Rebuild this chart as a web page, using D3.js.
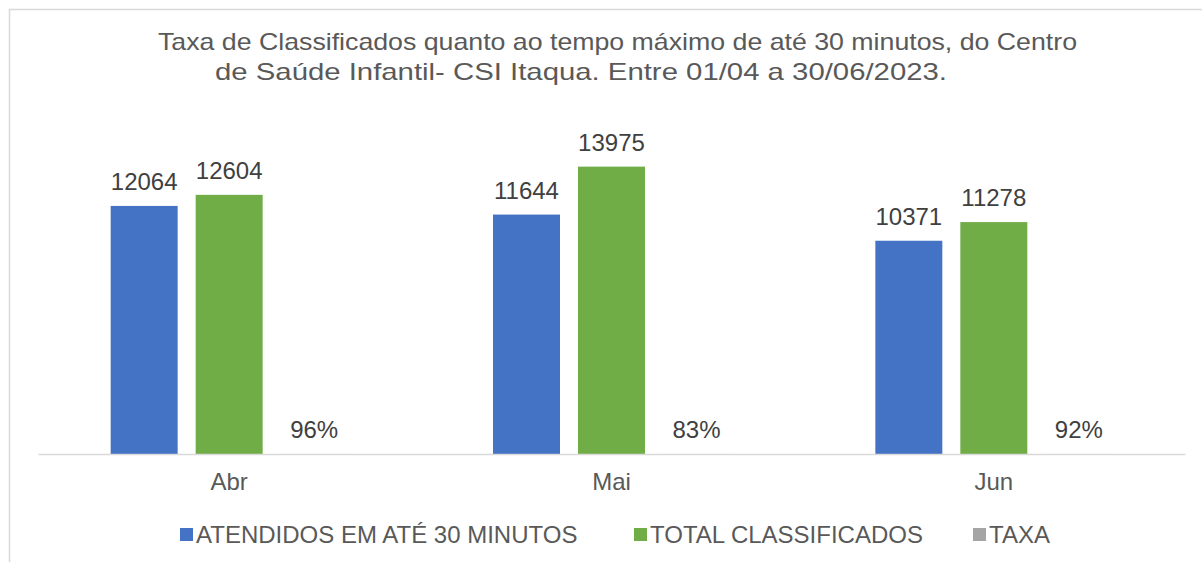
<!DOCTYPE html>
<html>
<head>
<meta charset="utf-8">
<script src="https://cdn.jsdelivr.net/npm/d3@7"></script>
<style>
  body { margin: 0; background: #fff; }
  svg { display: block; font-family: "Liberation Sans", Arial, sans-serif; }
</style>
</head>
<body>
<div id="chart"></div>
<script>
const months = ["Abr", "Mai", "Jun"];
const atendidos = [12064, 11644, 10371];
const totalClassificados = [12604, 13975, 11278];
const taxa = [0.96, 0.83, 0.92];
const seriesNames = ["ATENDIDOS EM ATÉ 30 MINUTOS", "TOTAL CLASSIFICADOS", "TAXA"];
const colors = ["#4472c4", "#70ad47", "#a5a5a5"];

const width = 1202;
const height = 562;
const plot = { left: 38, right: 1185, top: 125, bottom: 454 };

const svg = d3.select("#chart").append("svg")
  .attr("width", width)
  .attr("height", height);

// chart border
svg.append("rect")
  .attr("x", 9.5).attr("y", 9.5)
  .attr("width", 1210).attr("height", 600)
  .attr("fill", "none")
  .attr("stroke", "#d9d9d9")
  .attr("stroke-width", 1.5);

// title (two lines, stretched like the original)
const title = svg.append("text")
  .attr("fill", "#595959")
  .attr("font-size", 24);
title.append("tspan").attr("x", 158).attr("y", 50)
  .attr("textLength", 919).attr("lengthAdjust", "spacingAndGlyphs")
  .text("Taxa de Classificados quanto ao tempo máximo de até 30 minutos, do Centro");
title.append("tspan").attr("x", 215).attr("y", 80)
  .attr("textLength", 732).attr("lengthAdjust", "spacingAndGlyphs")
  .text("de Saúde Infantil- CSI Itaqua. Entre 01/04 a 30/06/2023.");

const x0 = d3.scaleBand().domain(months).range([plot.left, plot.right]);
const x1 = d3.scaleBand().domain([0, 1, 2]).range([0, x0.bandwidth()])
  .paddingInner(0.212).paddingOuter(0.855);
const y = d3.scaleLinear().domain([0, 16000]).range([plot.bottom, plot.top]);

const rows = months.map((m, i) => ({
  month: m,
  values: [
    { s: 0, v: atendidos[i], label: String(atendidos[i]) },
    { s: 1, v: totalClassificados[i], label: String(totalClassificados[i]) },
    { s: 2, v: taxa[i], label: d3.format(".0%")(taxa[i]) }
  ]
}));

const groups = svg.append("g").selectAll("g")
  .data(rows)
  .join("g")
  .attr("transform", d => `translate(${x0(d.month)},0)`);

groups.selectAll("rect")
  .data(d => d.values)
  .join("rect")
  .attr("x", d => x1(d.s))
  .attr("width", x1.bandwidth())
  .attr("y", d => y(d.v))
  .attr("height", d => y(0) - y(d.v))
  .attr("fill", d => colors[d.s]);

groups.selectAll("text")
  .data(d => d.values)
  .join("text")
  .attr("x", d => x1(d.s) + x1.bandwidth() / 2)
  .attr("y", d => y(d.v) - 16)
  .attr("text-anchor", "middle")
  .attr("font-size", 24)
  .attr("fill", "#404040")
  .text(d => d.label);

// baseline + category labels
const xAxis = svg.append("g")
  .attr("transform", `translate(0,${plot.bottom})`)
  .call(d3.axisBottom(x0).tickSize(0).tickPadding(0));
xAxis.select(".domain").attr("stroke", "#d9d9d9").attr("stroke-width", 1.5);
xAxis.selectAll("text")
  .attr("dy", null)
  .attr("y", 36)
  .attr("font-size", 24)
  .attr("fill", "#595959")
  .attr("font-family", "Liberation Sans, Arial, sans-serif");

// legend
const legendX = [180, 634, 973];
const legend = svg.append("g").selectAll("g")
  .data(seriesNames)
  .join("g")
  .attr("transform", (d, i) => `translate(${legendX[i]},528)`);
legend.append("rect")
  .attr("x", 0).attr("y", 0)
  .attr("width", 13).attr("height", 13)
  .attr("fill", (d, i) => colors[i]);
legend.append("text")
  .attr("x", 16).attr("y", 15)
  .attr("font-size", 24)
  .attr("fill", "#595959")
  .text(d => d);
</script>
</body>
</html>
